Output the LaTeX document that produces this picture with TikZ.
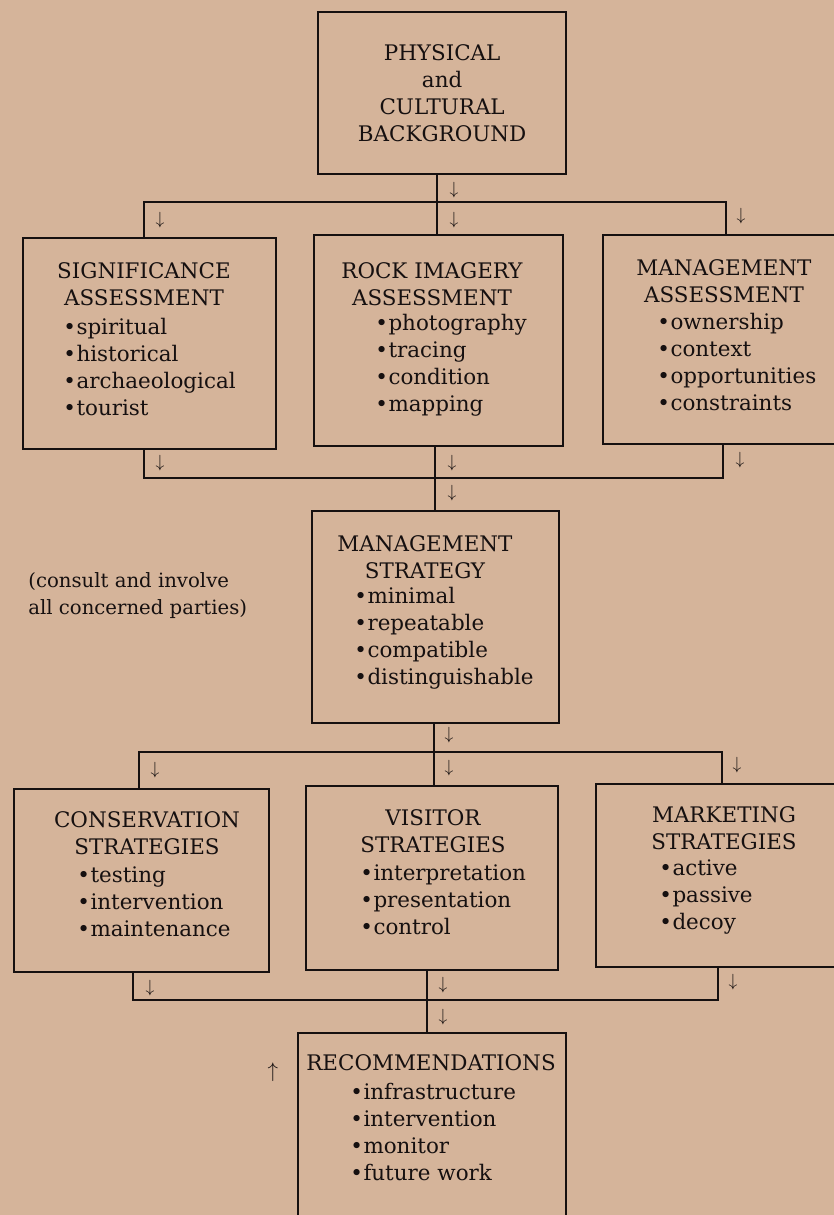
\documentclass[tikz,border=0pt]{standalone}
\usepackage{tikz}
\usepackage{fontspec}
\setmainfont{DejaVu Serif}
\definecolor{paper}{RGB}{213,180,154}
\definecolor{ink}{RGB}{22,16,16}
\def\bul{\textbullet\kern0.3pt}
\tikzset{
	box/.style 2 args={draw=ink, line width=0.45mm, minimum width=#1*0.02cm, minimum height=#2*0.02cm, anchor=north west, inner sep=0pt},
	head/.style={text=ink, align=center, inner sep=0pt, font=\fontsize{12.2}{15.4}\selectfont},
	items/.style={text=ink, align=left, anchor=west, inner sep=0pt, font=\fontsize{12.2}{15.4}\selectfont},
	link/.style={draw=ink, line width=0.4mm},
	arr/.style={text=ink, inner sep=0pt, font=\fontsize{10}{12}\selectfont}
}

\begin{document}
\begin{tikzpicture}[x=0.02cm, y=-0.02cm]
		%%%%% START %%%%%
		
		\useasboundingbox (0, 0) rectangle (834, 1215);
		\clip (0, 0) rectangle (834, 1215);
		\fill[paper] (0, 0) rectangle (834, 1215);
		
		\node[box={248}{162}, head] (phys) at (317, 11) {PHYSICAL\\and\\CULTURAL\\BACKGROUND};
		
		\node[box={253}{211}] (sig) at (22, 237) {};
		\node[head] (sig-t) at (144, 284) {SIGNIFICANCE\\ASSESSMENT};
		\node[items] (sig-l) at (63, 367) {\bul spiritual\\\bul historical\\\bul archaeological\\\bul tourist};
		
		\node[box={249}{211}] (rock) at (313, 234) {};
		\node[head] (rock-t) at (432, 284) {ROCK IMAGERY\\ASSESSMENT};
		\node[items] (rock-l) at (375, 365) {\bul photography\\\bul tracing\\\bul condition\\\bul mapping};
		
		\node[box={260}{209}] (mgmt) at (602, 234) {};
		\node[head] (mgmt-t) at (724, 281) {MANAGEMENT\\ASSESSMENT};
		\node[items] (mgmt-l) at (657, 362) {\bul ownership\\\bul context\\\bul opportunities\\\bul constraints};
		
		\node[box={247}{212}] (strat) at (311, 510) {};
		\node[head] (strat-t) at (425, 557) {MANAGEMENT\\STRATEGY};
		\node[items] (strat-l) at (354, 638) {\bul minimal\\\bul repeatable\\\bul compatible\\\bul distinguishable};
		
		\node[items, font=\fontsize{11.2}{15.4}\selectfont] (note) at (28, 596) {(consult and involve\\all concerned parties)};
		
		\node[box={255}{183}] (cons) at (13, 788) {};
		\node[head] (cons-t) at (147, 833) {CONSERVATION\\STRATEGIES};
		\node[items] (cons-l) at (77, 902) {\bul testing\\\bul intervention\\\bul maintenance};
		
		\node[box={252}{184}] (vis) at (305, 785) {};
		\node[head] (vis-t) at (433, 831) {VISITOR\\STRATEGIES};
		\node[items] (vis-l) at (360, 900) {\bul interpretation\\\bul presentation\\\bul control};
		
		\node[box={260}{183}] (mkt) at (595, 783) {};
		\node[head] (mkt-t) at (724, 828) {MARKETING\\STRATEGIES};
		\node[items] (mkt-l) at (659, 897) {\bul active\\\bul passive\\\bul decoy};
		
		\node[box={268}{250}] (rec) at (297, 1032) {};
		\node[head] (rec-t) at (431, 1063) {RECOMMENDATIONS};
		\node[items] (rec-l) at (350, 1132) {\bul infrastructure\\\bul intervention\\\bul monitor\\\bul future work};
		
		\coordinate (b1w) at (144, 202);
		\coordinate (b1m) at (437, 202);
		\coordinate (b1e) at (726, 202);
		\draw[link] (b1m |- phys.south) -- (b1m) -- (b1m |- rock.north);
		\draw[link] (sig.north -| b1w) -- (b1w) -- (b1e) -- (mgmt.north -| b1e);
		
		\coordinate (b2w) at (144, 478);
		\coordinate (b2m) at (435, 478);
		\coordinate (b2e) at (723, 478);
		\draw[link] (sig.south -| b2w) -- (b2w) -- (b2e) -- (mgmt.south -| b2e);
		\draw[link] (b2m |- rock.south) -- (b2m |- strat.north);
		
		\coordinate (b3w) at (139, 752);
		\coordinate (b3m) at (434, 752);
		\coordinate (b3e) at (722, 752);
		\draw[link] (b3m |- strat.south) -- (b3m |- vis.north);
		\draw[link] (cons.north -| b3w) -- (b3w) -- (b3e) -- (mkt.north -| b3e);
		
		\coordinate (b4w) at (133, 1000);
		\coordinate (b4m) at (427, 1000);
		\coordinate (b4e) at (718, 1000);
		\draw[link] (cons.south -| b4w) -- (b4w) -- (b4e) -- (mkt.south -| b4e);
		\draw[link] (b4m |- vis.south) -- (b4m |- rec.north);
		
		\node[arr] (dn1) at (454, 190) {$\downarrow$};
		\node[arr] (dn2) at (160, 220) {$\downarrow$};
		\node[arr] (dn3) at (454, 220) {$\downarrow$};
		\node[arr] (dn4) at (741, 216) {$\downarrow$};
		\node[arr] (dn5) at (160, 463) {$\downarrow$};
		\node[arr] (dn6) at (452, 463) {$\downarrow$};
		\node[arr] (dn7) at (740, 460) {$\downarrow$};
		\node[arr] (dn8) at (452, 493) {$\downarrow$};
		\node[arr] (dn9) at (449, 735) {$\downarrow$};
		\node[arr] (dn10) at (155, 770) {$\downarrow$};
		\node[arr] (dn11) at (449, 768) {$\downarrow$};
		\node[arr] (dn12) at (737, 765) {$\downarrow$};
		\node[arr] (dn13) at (150, 988) {$\downarrow$};
		\node[arr] (dn14) at (443, 985) {$\downarrow$};
		\node[arr] (dn15) at (733, 982) {$\downarrow$};
		\node[arr] (dn16) at (443, 1017) {$\downarrow$};
		\node[arr, font=\fontsize{12}{14}\selectfont] (up) at (273, 1072) {$\uparrow$};
		
		%%%%% END %%%%%
\end{tikzpicture}
\end{document}
